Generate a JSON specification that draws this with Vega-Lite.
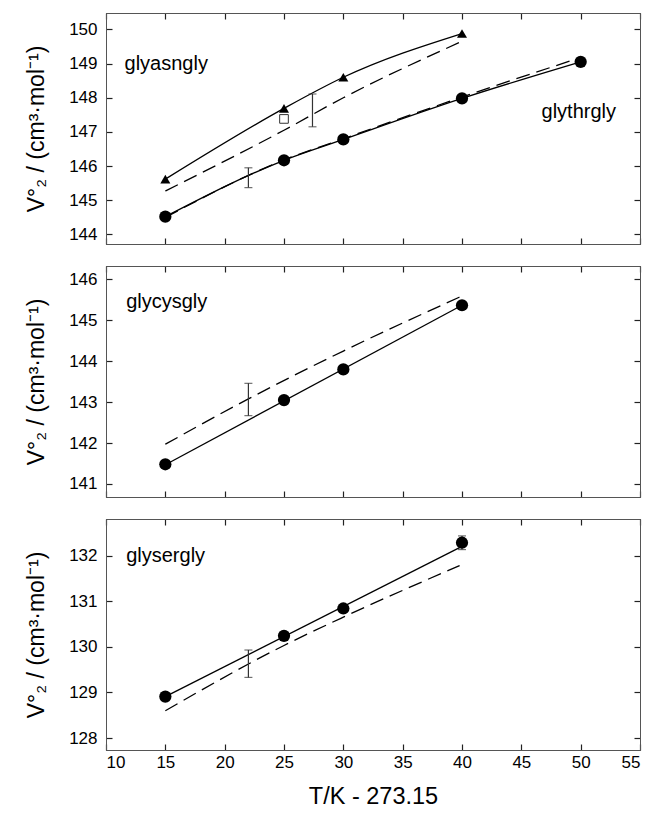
{
  "$schema": "https://vega.github.io/schema/vega-lite/v6.json",
  "padding": {"left": 25, "top": 11, "right": 10, "bottom": 2},
  "background": "white",
  "datasets": {
    "pts": [
      {"p": 1, "s": "glythrgly", "src": "this work", "T": 15, "V": 144.52},
      {"p": 1, "s": "glythrgly", "src": "this work", "T": 25, "V": 146.17},
      {"p": 1, "s": "glythrgly", "src": "this work", "T": 30, "V": 146.78},
      {"p": 1, "s": "glythrgly", "src": "this work", "T": 40, "V": 147.98},
      {"p": 1, "s": "glythrgly", "src": "this work", "T": 50, "V": 149.05},
      {"p": 1, "s": "glyasngly", "src": "this work", "T": 15, "V": 145.62},
      {"p": 1, "s": "glyasngly", "src": "this work", "T": 25, "V": 147.69},
      {"p": 1, "s": "glyasngly", "src": "this work", "T": 30, "V": 148.6},
      {"p": 1, "s": "glyasngly", "src": "this work", "T": 40, "V": 149.88},
      {"p": 1, "s": "glyasngly", "src": "literature", "T": 25, "V": 147.38},
      {"p": 2, "s": "glycysgly", "src": "this work", "T": 15, "V": 141.48},
      {"p": 2, "s": "glycysgly", "src": "this work", "T": 25, "V": 143.05},
      {"p": 2, "s": "glycysgly", "src": "this work", "T": 30, "V": 143.8},
      {"p": 2, "s": "glycysgly", "src": "this work", "T": 40, "V": 145.37},
      {"p": 3, "s": "glysergly", "src": "this work", "T": 15, "V": 128.91},
      {"p": 3, "s": "glysergly", "src": "this work", "T": 25, "V": 130.24},
      {"p": 3, "s": "glysergly", "src": "this work", "T": 30, "V": 130.84},
      {"p": 3, "s": "glysergly", "src": "this work", "T": 40, "V": 132.28}
    ],
    "fit": [
      {"p": 2, "s": "glycysgly", "T": 15, "V": 141.47},
      {"p": 2, "s": "glycysgly", "T": 40, "V": 145.37},
      {"p": 3, "s": "glysergly", "T": 15, "V": 128.91},
      {"p": 3, "s": "glysergly", "T": 40, "V": 132.2}
    ],
    "pred": [
      {"p": 1, "s": "glyasngly", "T": 15, "V": 145.27},
      {"p": 1, "s": "glyasngly", "T": 25, "V": 147.05},
      {"p": 1, "s": "glyasngly", "T": 30, "V": 148.0},
      {"p": 1, "s": "glyasngly", "T": 39.8, "V": 149.62},
      {"p": 1, "s": "glythrgly", "T": 15, "V": 144.5},
      {"p": 1, "s": "glythrgly", "T": 25, "V": 146.18},
      {"p": 1, "s": "glythrgly", "T": 30, "V": 146.8},
      {"p": 1, "s": "glythrgly", "T": 40, "V": 148.02},
      {"p": 1, "s": "glythrgly", "T": 49.5, "V": 149.12},
      {"p": 2, "s": "glycysgly", "T": 15, "V": 141.97},
      {"p": 2, "s": "glycysgly", "T": 22, "V": 143.08},
      {"p": 2, "s": "glycysgly", "T": 30, "V": 144.25},
      {"p": 2, "s": "glycysgly", "T": 39.8, "V": 145.57},
      {"p": 3, "s": "glysergly", "T": 15, "V": 128.6},
      {"p": 3, "s": "glysergly", "T": 25, "V": 130.03},
      {"p": 3, "s": "glysergly", "T": 30, "V": 130.65},
      {"p": 3, "s": "glysergly", "T": 39.8, "V": 131.78}
    ],
    "errs": [
      {"p": 1, "T": 22, "V": 145.37, "V2": 145.95},
      {"p": 1, "T": 27.4, "V": 147.15, "V2": 148.11},
      {"p": 2, "T": 22, "V": 142.67, "V2": 143.46},
      {"p": 3, "T": 22, "V": 129.33, "V2": 129.93},
      {"p": 3, "T": 40, "V": 132.13, "V2": 132.43}
    ],
    "labs": [
      {"p": 1, "T": 11.56, "V": 149.0, "text": "glyasngly"},
      {"p": 1, "T": 46.7, "V": 147.59, "text": "glythrgly"},
      {"p": 2, "T": 11.7, "V": 145.45, "text": "glycysgly"},
      {"p": 3, "T": 11.7, "V": 132.0, "text": "glysergly"}
    ]
  },
  "vconcat": [
    {
      "width": 534, "height": 231,
      "layer": [
        {
          "encoding": {
            "x": {"field": "T", "type": "quantitative", "scale": {"domain": [10, 55], "nice": false, "zero": false}, "axis": {"orient": "bottom", "values": [10, 15, 20, 25, 30, 35, 40, 45, 50, 55], "labels": false, "title": null}},
            "y": {"field": "V", "type": "quantitative", "scale": {"domain": [143.72, 150.48], "nice": false, "zero": false}, "axis": {"orient": "left", "values": [144, 145, 146, 147, 148, 149, 150], "title": "V°₂ / (cm³·mol⁻¹)"}}
          },
          "layer": [
            {"data": {"name": "pts"}, "transform": [{"filter": "datum.p == 1 && datum.src == 'this work'"}], "mark": {"type": "line", "color": "black", "strokeWidth": 1.3, "interpolate": "monotone"}, "encoding": {"detail": {"field": "s"}}},
            {"data": {"name": "pred"}, "transform": [{"filter": "datum.p == 1"}], "mark": {"type": "line", "color": "black", "strokeWidth": 1.3, "strokeDash": [14, 7], "interpolate": "monotone"}, "encoding": {"detail": {"field": "s"}}},
            {"data": {"name": "errs"}, "transform": [{"filter": "datum.p == 1"}], "mark": {"type": "rule", "color": "#333", "strokeWidth": 1.2}, "encoding": {"y2": {"field": "V2"}}},
            {"data": {"name": "errs"}, "transform": [{"filter": "datum.p == 1"}], "mark": {"type": "tick", "orient": "horizontal", "color": "#333", "size": 8, "thickness": 1.2}, "encoding": {}},
            {"data": {"name": "errs"}, "transform": [{"filter": "datum.p == 1"}], "mark": {"type": "tick", "orient": "horizontal", "color": "#333", "size": 8, "thickness": 1.2}, "encoding": {"y": {"field": "V2", "type": "quantitative"}}},
            {"data": {"name": "pts"}, "transform": [{"filter": "datum.p == 1 && datum.s == 'glythrgly'"}], "mark": {"type": "circle", "color": "black", "size": 150, "opacity": 1}, "encoding": {}},
            {"data": {"name": "pts"}, "transform": [{"filter": "datum.p == 1 && datum.s == 'glyasngly' && datum.src == 'this work'"}], "mark": {"type": "point", "shape": "triangle-up", "filled": true, "color": "black", "size": 100, "opacity": 1}, "encoding": {}},
            {"data": {"name": "pts"}, "transform": [{"filter": "datum.src == 'literature'"}], "mark": {"type": "point", "shape": "square", "filled": true, "fill": "white", "stroke": "#333", "strokeWidth": 1, "size": 75, "opacity": 1}, "encoding": {}},
            {"data": {"name": "labs"}, "transform": [{"filter": "datum.p == 1"}], "mark": {"type": "text", "align": "left", "baseline": "middle", "fontSize": 20, "font": "Liberation Sans", "color": "black"}, "encoding": {"text": {"field": "text"}}}
          ]
        },
        {
          "data": {"name": "pts"}, "transform": [{"filter": "datum.p == 1"}],
          "mark": {"type": "point", "opacity": 0},
          "encoding": {
            "x": {"field": "T", "type": "quantitative", "scale": {"domain": [10, 55], "nice": false, "zero": false}, "axis": {"orient": "top", "values": [10, 15, 20, 25, 30, 35, 40, 45, 50, 55], "labels": false, "title": null}},
            "y": {"field": "V", "type": "quantitative", "scale": {"domain": [143.72, 150.48], "nice": false, "zero": false}, "axis": {"orient": "right", "values": [144, 145, 146, 147, 148, 149, 150], "labels": false, "title": null}}
          }
        }
      ],
      "resolve": {"axis": {"x": "independent", "y": "independent"}}
    },
    {
      "width": 534, "height": 231,
      "layer": [
        {
          "encoding": {
            "x": {"field": "T", "type": "quantitative", "scale": {"domain": [10, 55], "nice": false, "zero": false}, "axis": {"orient": "bottom", "values": [10, 15, 20, 25, 30, 35, 40, 45, 50, 55], "labels": false, "title": null}},
            "y": {"field": "V", "type": "quantitative", "scale": {"domain": [140.68, 146.33], "nice": false, "zero": false}, "axis": {"orient": "left", "values": [141, 142, 143, 144, 145, 146], "title": "V°₂ / (cm³·mol⁻¹)"}}
          },
          "layer": [
            {"data": {"name": "fit"}, "transform": [{"filter": "datum.p == 2"}], "mark": {"type": "line", "color": "black", "strokeWidth": 1.3}, "encoding": {"detail": {"field": "s"}}},
            {"data": {"name": "pred"}, "transform": [{"filter": "datum.p == 2"}], "mark": {"type": "line", "color": "black", "strokeWidth": 1.3, "strokeDash": [14, 7], "interpolate": "monotone"}, "encoding": {"detail": {"field": "s"}}},
            {"data": {"name": "errs"}, "transform": [{"filter": "datum.p == 2"}], "mark": {"type": "rule", "color": "#333", "strokeWidth": 1.2}, "encoding": {"y2": {"field": "V2"}}},
            {"data": {"name": "errs"}, "transform": [{"filter": "datum.p == 2"}], "mark": {"type": "tick", "orient": "horizontal", "color": "#333", "size": 8, "thickness": 1.2}, "encoding": {}},
            {"data": {"name": "errs"}, "transform": [{"filter": "datum.p == 2"}], "mark": {"type": "tick", "orient": "horizontal", "color": "#333", "size": 8, "thickness": 1.2}, "encoding": {"y": {"field": "V2", "type": "quantitative"}}},
            {"data": {"name": "pts"}, "transform": [{"filter": "datum.p == 2"}], "mark": {"type": "circle", "color": "black", "size": 150, "opacity": 1}, "encoding": {}},
            {"data": {"name": "labs"}, "transform": [{"filter": "datum.p == 2"}], "mark": {"type": "text", "align": "left", "baseline": "middle", "fontSize": 20, "font": "Liberation Sans", "color": "black"}, "encoding": {"text": {"field": "text"}}}
          ]
        },
        {
          "data": {"name": "pts"}, "transform": [{"filter": "datum.p == 2"}],
          "mark": {"type": "point", "opacity": 0},
          "encoding": {
            "x": {"field": "T", "type": "quantitative", "scale": {"domain": [10, 55], "nice": false, "zero": false}, "axis": {"orient": "top", "values": [10, 15, 20, 25, 30, 35, 40, 45, 50, 55], "labels": false, "title": null}},
            "y": {"field": "V", "type": "quantitative", "scale": {"domain": [140.68, 146.33], "nice": false, "zero": false}, "axis": {"orient": "right", "values": [141, 142, 143, 144, 145, 146], "labels": false, "title": null}}
          }
        }
      ],
      "resolve": {"axis": {"x": "independent", "y": "independent"}}
    },
    {
      "width": 534, "height": 231,
      "layer": [
        {
          "encoding": {
            "x": {"field": "T", "type": "quantitative", "scale": {"domain": [10, 55], "nice": false, "zero": false}, "axis": {"orient": "bottom", "values": [10, 15, 20, 25, 30, 35, 40, 45, 50, 55], "labels": true, "labelPadding": 10, "title": "T/K - 273.15", "titleFontSize": 23.5, "titlePadding": 14}},
            "y": {"field": "V", "type": "quantitative", "scale": {"domain": [127.74, 132.8], "nice": false, "zero": false}, "axis": {"orient": "left", "values": [128, 129, 130, 131, 132], "title": "V°₂ / (cm³·mol⁻¹)"}}
          },
          "layer": [
            {"data": {"name": "fit"}, "transform": [{"filter": "datum.p == 3"}], "mark": {"type": "line", "color": "black", "strokeWidth": 1.3}, "encoding": {"detail": {"field": "s"}}},
            {"data": {"name": "pred"}, "transform": [{"filter": "datum.p == 3"}], "mark": {"type": "line", "color": "black", "strokeWidth": 1.3, "strokeDash": [14, 7], "interpolate": "monotone"}, "encoding": {"detail": {"field": "s"}}},
            {"data": {"name": "errs"}, "transform": [{"filter": "datum.p == 3"}], "mark": {"type": "rule", "color": "#333", "strokeWidth": 1.2}, "encoding": {"y2": {"field": "V2"}}},
            {"data": {"name": "errs"}, "transform": [{"filter": "datum.p == 3"}], "mark": {"type": "tick", "orient": "horizontal", "color": "#333", "size": 8, "thickness": 1.2}, "encoding": {}},
            {"data": {"name": "errs"}, "transform": [{"filter": "datum.p == 3"}], "mark": {"type": "tick", "orient": "horizontal", "color": "#333", "size": 8, "thickness": 1.2}, "encoding": {"y": {"field": "V2", "type": "quantitative"}}},
            {"data": {"name": "pts"}, "transform": [{"filter": "datum.p == 3"}], "mark": {"type": "circle", "color": "black", "size": 150, "opacity": 1}, "encoding": {}},
            {"data": {"name": "labs"}, "transform": [{"filter": "datum.p == 3"}], "mark": {"type": "text", "align": "left", "baseline": "middle", "fontSize": 20, "font": "Liberation Sans", "color": "black"}, "encoding": {"text": {"field": "text"}}}
          ]
        },
        {
          "data": {"name": "pts"}, "transform": [{"filter": "datum.p == 3"}],
          "mark": {"type": "point", "opacity": 0},
          "encoding": {
            "x": {"field": "T", "type": "quantitative", "scale": {"domain": [10, 55], "nice": false, "zero": false}, "axis": {"orient": "top", "values": [10, 15, 20, 25, 30, 35, 40, 45, 50, 55], "labels": false, "title": null}},
            "y": {"field": "V", "type": "quantitative", "scale": {"domain": [127.74, 132.8], "nice": false, "zero": false}, "axis": {"orient": "right", "values": [128, 129, 130, 131, 132], "labels": false, "title": null}}
          }
        }
      ],
      "resolve": {"axis": {"x": "independent", "y": "independent"}}
    }
  ],
  "spacing": 18,
  "config": {
    "font": "Liberation Sans",
    "view": {"stroke": "#555", "strokeWidth": 1},
    "axis": {
      "grid": false,
      "domainColor": "#555",
      "domainWidth": 1,
      "tickColor": "#222",
      "tickSize": -6,
      "tickWidth": 1.2,
      "labelFontSize": 17,
      "labelColor": "#000",
      "labelFont": "Liberation Sans",
      "labelPadding": 15,
      "titleFont": "Liberation Sans",
      "titleFontWeight": "normal",
      "titleFontSize": 23,
      "titleColor": "#000",
      "titlePadding": 20
    }
  }
}
